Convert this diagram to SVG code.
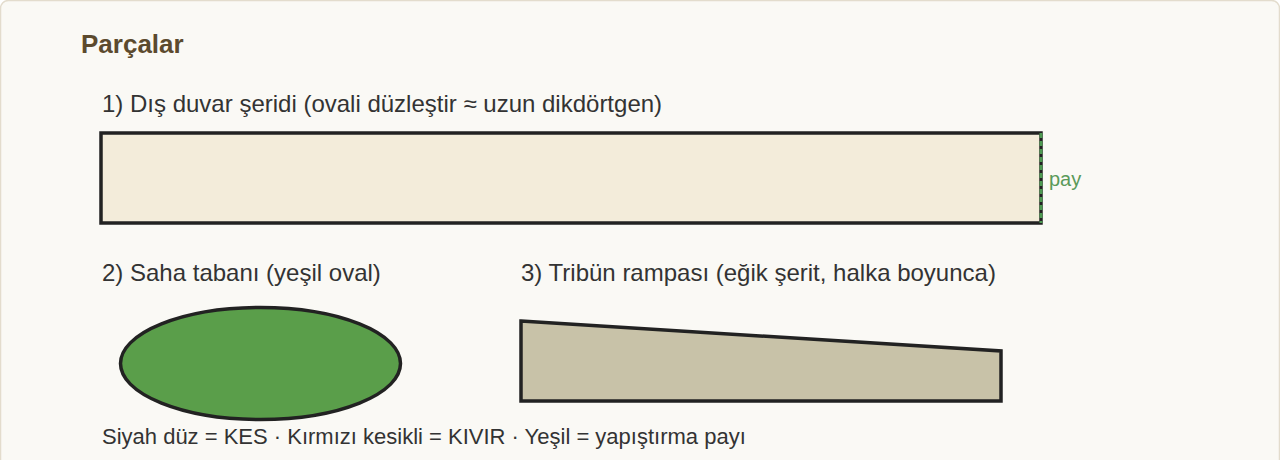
<svg xmlns="http://www.w3.org/2000/svg" width="1280" height="460" viewBox="0 0 1280 460">
<style>
.t{font-family:"Liberation Sans",Arial,sans-serif;fill:#333;font-size:24px}
.cut{stroke:#222;stroke-width:3.5;stroke-linejoin:miter}
</style>
<rect x="0.5" y="0.5" width="1279" height="475" rx="8" fill="#faf9f5" stroke="#e3dccd" stroke-width="1.5"/>
<text x="81" y="53" font-family="Liberation Sans,Arial,sans-serif" font-size="26" font-weight="bold" fill="#5c4a2e">Parçalar</text>
<g id="strip">
<text class="t" x="102" y="112">1) Dış duvar şeridi (ovali düzleştir ≈ uzun dikdörtgen)</text>
<rect class="cut" x="101" y="133" width="940" height="90" fill="#f3ecda"/>
</g>
<g id="glue">
<line x1="1041" y1="133" x2="1041" y2="223" stroke="#4e9a52" stroke-width="3" stroke-dasharray="5 3"/>
<text x="1049" y="186" font-family="Liberation Sans,Arial,sans-serif" font-size="20" fill="#5a9a5a">pay</text>
</g>
<g id="field">
<text class="t" x="102" y="281">2) Saha tabanı (yeşil oval)</text>
<ellipse class="cut" cx="260.5" cy="363.5" rx="140" ry="56" fill="#5a9e4a"/>
</g>
<g id="ramp">
<text class="t" x="521" y="281">3) Tribün rampası (eğik şerit, halka boyunca)</text>
<polygon class="cut" points="521,321 1001,351 1001,401 521,401" fill="#c8c2a8"/>
</g>
<text class="t" x="102" y="444" style="font-size:22px">Siyah düz = KES · Kırmızı kesikli = KIVIR · Yeşil = yapıştırma payı</text>
</svg>
